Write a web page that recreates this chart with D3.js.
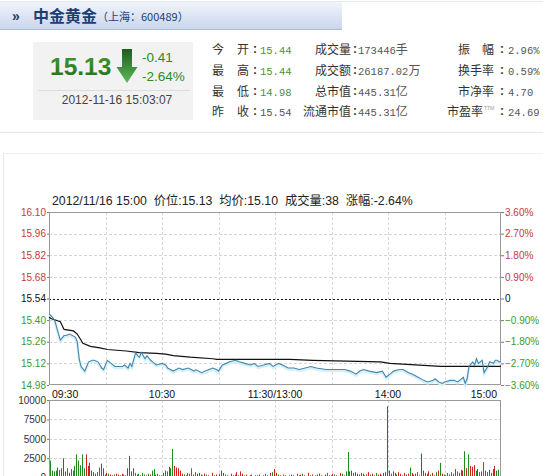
<!DOCTYPE html>
<html><head><meta charset="utf-8">
<script src="https://cdn.jsdelivr.net/npm/d3@7"></script>
<style>
html,body{margin:0;padding:0;background:#fff;}
svg{display:block;}
</style></head>
<body>
<svg id="c" width="543" height="476"></svg>
<script>
// ---------------- DATA ----------------
const stockName = "中金黄金";
const stockCode = "（上海：600489）";
const lastPrice = "15.13";
const change = "-0.41";
const changePct = "-2.64%";
const timestamp = "2012-11-16 15:03:07";
const chartTitle = "2012/11/16 15:00  价位:15.13  均价:15.10  成交量:38  涨幅:-2.64%";

// stats table
const statsCol1 = [["今","开","15.44"],["最","高","15.44"],["最","低","14.98"],["昨","收","15.54"]];
const statsCol2 = [["成交量","173446手"],["成交额","26187.02万"],["总市值","445.31亿"],["流通市值","445.31亿"]];
const statsCol3 = [["振　幅","2.96%"],["换手率","0.59%"],["市净率","4.70"],["市盈率","24.69"]];

const prevClose = 15.54;
const priceTicks = [16.10,15.96,15.82,15.68,15.54,15.40,15.26,15.12,14.98];
const pctTicks = [3.60,2.70,1.80,0.90,0,-0.90,-1.80,-2.70,-3.60];
const timeLabels = [[0,"09:30"],[60,"10:30"],[120,"11:30/13:00"],[180,"14:00"],[240,"15:00"]];
const gridMinutes = [30,60,90,120,150,180,210];
const volTicks = [10000,7500,5000,2500,0];

// [minute index from 09:30 (lunch removed), price]
const priceSeries = [[0,15.44],[1,15.43],[3,15.40],[6,15.27],[8,15.30],[9,15.30],[11,15.31],[14,15.29],[15,15.26],[16,15.15],[17,15.10],[19,15.07],[21,15.13],[23,15.14],[24,15.14],[26,15.13],[28,15.09],[29,15.08],[31,15.14],[33,15.12],[35,15.10],[39,15.10],[40,15.11],[42,15.09],[43,15.12],[44,15.10],[46,15.19],[47,15.17],[48,15.16],[49,15.19],[51,15.15],[52,15.17],[54,15.14],[55,15.13],[57,15.11],[60,15.12],[62,15.11],[63,15.09],[66,15.07],[69,15.09],[71,15.08],[74,15.09],[77,15.07],[78,15.08],[81,15.06],[83,15.07],[85,15.08],[87,15.09],[89,15.08],[90,15.07],[92,15.11],[94,15.12],[96,15.13],[99,15.14],[101,15.13],[104,15.12],[107,15.11],[109,15.12],[111,15.10],[114,15.11],[117,15.12],[119,15.10],[122,15.12],[124,15.11],[127,15.09],[130,15.09],[133,15.08],[139,15.10],[142,15.09],[147,15.08],[150,15.08],[153,15.08],[157,15.08],[160,15.07],[163,15.05],[165,15.07],[167,15.08],[170,15.07],[174,15.06],[177,15.07],[179,15.03],[181,15.05],[183,15.07],[186,15.08],[188,15.08],[191,15.06],[193,15.05],[196,15.03],[199,15.01],[201,15.00],[204,15.01],[205,15.02],[207,15.00],[209,14.99],[210,15.00],[213,15.01],[215,15.01],[217,15.00],[218,15.01],[220,15.03],[221,14.99],[222,15.02],[223,15.10],[225,15.13],[226,15.11],[227,15.15],[228,15.12],[230,15.14],[231,15.06],[233,15.10],[234,15.13],[236,15.12],[237,15.14],[238,15.14],[239,15.13],[240,15.13]];

const avgSeries = [[0,15.42],[1,15.41],[6,15.39],[8,15.34],[13,15.33],[15,15.31],[18,15.25],[22,15.23],[27,15.22],[31,15.21],[41,15.20],[48,15.19],[57,15.185],[62,15.18],[66,15.17],[75,15.16],[87,15.15],[89,15.146],[128,15.146],[140,15.14],[176,15.13],[181,15.12],[208,15.10],[240,15.10]];

// per-minute volume (lots); positive = up minute (red), negative = down minute (green)
const volume = [
-2200,-900,-800,-900,-1300,-1000,1200,2500,-800,-1200,
600,-1100,-900,-1500,-3000,-2200,-1600,-3000,-1200,3000,
1500,1900,900,700,500,-700,-1300,1800,1200,400,
600,-500,400,300,-400,500,400,-300,500,400,
-300,1200,2800,800,1200,-600,400,-500,300,-600,
-400,300,-500,400,-900,-1100,400,-500,300,-300,
600,900,-800,1400,-1200,-3700,1500,1300,1200,900,
500,-400,300,-600,500,-1200,400,-700,500,600,
400,-300,500,-400,300,-200,600,-300,400,200,
-500,900,600,-400,300,-200,500,300,-400,700,
-300,800,500,-300,400,-200,300,-400,200,300,
-300,400,-200,300,-500,300,-200,600,-700,1100,
600,-400,300,-200,400,-300,200,300,-400,300,
-200,500,-300,400,-500,300,-200,600,-300,400,
-200,300,-400,500,-300,200,400,-600,300,-300,
500,-400,300,-200,600,-500,300,-800,-3300,800,
900,-600,700,500,-400,600,500,-300,400,700,
-400,500,300,-600,400,500,-300,600,700,9200,
900,-500,800,600,-400,700,500,-300,600,-400,
500,-1300,600,-400,500,700,-300,3100,900,600,
-500,800,-400,600,300,-700,900,-1900,500,-400,
300,-600,400,-700,500,1100,-800,600,-1000,900,
-3400,1200,-3000,1500,1400,1600,-900,1100,-700,800,
-2000,900,-700,1000,-600,1100,1500,-900,-1000,600
];

// ---------------- DRAW ----------------
const svg = d3.select("#c");
const CJK = "'Noto Sans CJK SC','Noto Sans',sans-serif";
const LAT = "'Liberation Sans',Arial,'Noto Sans CJK SC',sans-serif";
const MONO = "'Liberation Mono','DejaVu Sans Mono',monospace";

const defs = svg.append("defs");
const hg = defs.append("linearGradient").attr("id","hdr").attr("x1",0).attr("y1",0).attr("x2",0).attr("y2",1);
hg.append("stop").attr("offset","0%").attr("stop-color","#f1f4fb");
hg.append("stop").attr("offset","100%").attr("stop-color","#c9d5ec");
const ag = defs.append("linearGradient").attr("id","arr").attr("x1",0).attr("y1",0).attr("x2",0).attr("y2",1);
ag.append("stop").attr("offset","0%").attr("stop-color","#1c5e1c");
ag.append("stop").attr("offset","100%").attr("stop-color","#5db85d");
const pg = defs.append("linearGradient").attr("id","pg").attr("x1",0).attr("y1",0).attr("x2",0).attr("y2",1);
pg.append("stop").attr("offset","0%").attr("stop-color","#3f9a2c");
pg.append("stop").attr("offset","100%").attr("stop-color","#24701a");

// header bar
svg.append("line").attr("x1",0).attr("x2",543).attr("y1",1.5).attr("y2",1.5).attr("stroke","#e4e8ef");
svg.append("rect").attr("x",0).attr("y",2).attr("width",342).attr("height",28).attr("fill","url(#hdr)");
svg.append("line").attr("x1",0).attr("x2",342).attr("y1",29.5).attr("y2",29.5).attr("stroke","#a9b9d6");
svg.append("text").attr("x",12).attr("y",21).attr("font-family",LAT).attr("font-size",14).attr("font-weight","bold").attr("fill","#1d3f73").text("»");
svg.append("text").attr("x",33).attr("y",22).attr("font-family",CJK).attr("font-size",16).attr("font-weight","bold").attr("fill","#1d3f73").text(stockName);
svg.append("text").attr("x",97).attr("y",21).attr("font-family",CJK).attr("font-size",11).attr("fill","#1d3f73").text(stockCode);

// price box
svg.append("rect").attr("x",33).attr("y",42).attr("width",160).attr("height",78).attr("fill","#f2f2f2");
svg.append("text").attr("x",50).attr("y",75).attr("font-family",LAT).attr("font-size",24.5).attr("font-weight","bold").attr("fill","url(#pg)").text(lastPrice);
svg.append("path").attr("d","M122,49 L132,49 L132,67 L137.5,67 L127,83 L116.5,67 L122,67 Z").attr("fill","url(#arr)");
svg.append("text").attr("x",142).attr("y",62).attr("font-family",LAT).attr("font-size",13.5).attr("fill","#2f8a22").text(change);
svg.append("text").attr("x",142).attr("y",81).attr("font-family",LAT).attr("font-size",13.5).attr("fill","#2f8a22").text(changePct);
svg.append("line").attr("x1",38).attr("x2",190).attr("y1",90.5).attr("y2",90.5).attr("stroke","#dcdcdc");
svg.append("text").attr("x",117).attr("y",104).attr("text-anchor","middle").attr("font-family",LAT).attr("font-size",12).attr("fill","#444").text(timestamp);

// stats table
const rowY = [54,75,95.5,116];
function colon(cx, y){
  svg.append("text").attr("x",cx).attr("y",y-1).attr("text-anchor","middle").attr("font-family",LAT)
    .attr("font-size",12).attr("font-weight","bold").attr("fill","#333").text(":");
}
statsCol1.forEach((r,i)=>{
  svg.append("text").attr("x",212).attr("y",rowY[i]).attr("font-family",CJK).attr("font-size",12).attr("fill","#333").text(r[0]);
  svg.append("text").attr("x",237).attr("y",rowY[i]).attr("font-family",CJK).attr("font-size",12).attr("fill","#333").text(r[1]);
  colon(255, rowY[i]);
  svg.append("text").attr("x",260).attr("y",rowY[i]).attr("font-family",MONO).attr("font-size",10.5).attr("fill", i<3 ? "#4f8f2f" : "#555").text(r[2]);
});
statsCol2.forEach((r,i)=>{
  svg.append("text").attr("x",351).attr("y",rowY[i]).attr("text-anchor","end").attr("font-family",CJK).attr("font-size",12).attr("fill","#333").text(r[0]);
  colon(355, rowY[i]);
  const v = r[1], num = v.slice(0,-1), unit = v.slice(-1);
  const t = svg.append("text").attr("x",358).attr("y",rowY[i]).attr("fill","#555");
  t.append("tspan").attr("font-family",MONO).attr("font-size",10.5).text(num);
  t.append("tspan").attr("font-family",CJK).attr("font-size",12).text(unit);
});
statsCol3.forEach((r,i)=>{
  const endX = i===3 ? 483 : 494;
  svg.append("text").attr("x",endX).attr("y",rowY[i]).attr("text-anchor","end").attr("font-family",CJK).attr("font-size",12).attr("fill","#333").text(r[0]);
  if(i===3) svg.append("text").attr("x",484).attr("y",rowY[i]-6).attr("font-family",LAT).attr("font-size",5).attr("fill","#999").text("TTM");
  colon(502, rowY[i]);
  svg.append("text").attr("x",508).attr("y",rowY[i]).attr("font-family",MONO).attr("font-size",10.5).attr("fill","#555").text(r[1]);
});

// separators / panel
svg.append("line").attr("x1",0).attr("x2",543).attr("y1",132.5).attr("y2",132.5).attr("stroke","#e6e6e6");
svg.append("line").attr("x1",3).attr("x2",543).attr("y1",153.5).attr("y2",153.5).attr("stroke","#f0f0f0");
svg.append("line").attr("x1",3.5).attr("x2",3.5).attr("y1",153).attr("y2",476).attr("stroke","#e8e8e8");

// chart title
svg.append("text").attr("x",52).attr("y",205).attr("font-family",LAT).attr("font-size",12.3).attr("fill","#222").style("white-space","pre").text(chartTitle);

// scales
const L = 49, R = 501, PT = 212, PB = 385, VT = 400, VB = 477.6;
const x = d3.scaleLinear().domain([0,240]).range([L,R]);
const yP = d3.scaleLinear().domain([14.98,16.10]).range([PB,PT]);
const yPct = d3.scaleLinear().domain([-3.6,3.6]).range([PB,PT]);
const yV = d3.scaleLinear().domain([0,10000]).range([VB,VT]);

const red = "#c23a3a", green = "#3b9a2f";

// price grid
const g = svg.append("g");
priceTicks.forEach(p=>{
  if(p===16.10 || p===14.98) return;
  const isPrev = Math.abs(p-prevClose)<1e-6;
  g.append("line").attr("x1",L).attr("x2",R).attr("y1",Math.round(yP(p))+0.5).attr("y2",Math.round(yP(p))+0.5)
    .attr("stroke", isPrev ? "#111" : "#d4d4d4").attr("stroke-dasharray", isPrev ? "2,2" : "3,2");
});
gridMinutes.forEach(m=>{
  g.append("line").attr("x1",Math.round(x(m))+0.5).attr("x2",Math.round(x(m))+0.5).attr("y1",PT).attr("y2",PB)
    .attr("stroke","#d8d8d8").attr("stroke-dasharray","3,2");
});

// price axes
const axL = svg.append("g").attr("transform",`translate(${L},0)`)
  .call(d3.axisLeft(yP).tickValues(priceTicks).tickFormat(d3.format(".2f")).tickSize(2).tickPadding(1).tickSizeOuter(0));
axL.select(".domain").remove();
axL.selectAll("line").attr("stroke","#777");
axL.selectAll("text").attr("font-family",LAT).attr("font-size",10)
  .attr("fill",d=> Math.abs(d-prevClose)<1e-6 ? "#111" : (d>prevClose ? red : green));

const axR = svg.append("g").attr("transform",`translate(${R},0)`)
  .call(d3.axisRight(yPct).tickValues(pctTicks).tickFormat(d=> d===0 ? "0" : d3.format(".2f")(d)+"%").tickSize(3).tickPadding(1).tickSizeOuter(0));
axR.select(".domain").remove();
axR.selectAll("line").attr("stroke","#777");
axR.selectAll("text").attr("font-family",LAT).attr("font-size",10)
  .attr("fill",d=> d===0 ? "#111" : (d>0 ? red : green));

// frame
svg.append("rect").attr("x",L+0.5).attr("y",PT+0.5).attr("width",R-L-1).attr("height",PB-PT-1)
  .attr("fill","none").attr("stroke","#999");

// price line with light halo
const lineP = d3.line().x(d=>x(d[0])).y(d=>yP(d[1]));
svg.append("path").datum(priceSeries).attr("d",lineP).attr("transform","translate(0,1.5)")
  .attr("fill","none").attr("stroke","#d6f0f8").attr("stroke-width",2.5);
svg.append("path").datum(avgSeries).attr("d",lineP).attr("fill","none").attr("stroke","#111").attr("stroke-width",1.2);
svg.append("path").datum(priceSeries).attr("d",lineP).attr("fill","none").attr("stroke","#4586ad").attr("stroke-width",1.1);

// time labels
timeLabels.forEach(([m,lab],i)=>{
  const anchor = i===0 ? "start" : (i===timeLabels.length-1 ? "end" : "middle");
  const xx = i===0 ? x(m)+3 : (i===timeLabels.length-1 ? x(m)-4 : x(m));
  svg.append("text").attr("x",xx).attr("y",397.5).attr("text-anchor",anchor)
    .attr("font-family",LAT).attr("font-size",10.5).attr("fill","#111").text(lab);
});

// volume grid
volTicks.forEach(v=>{
  if(v===10000 || v===0) return;
  svg.append("line").attr("x1",L).attr("x2",R).attr("y1",Math.round(yV(v))+0.5).attr("y2",Math.round(yV(v))+0.5)
    .attr("stroke","#d4d4d4").attr("stroke-dasharray","3,2");
});
gridMinutes.forEach(m=>{
  svg.append("line").attr("x1",Math.round(x(m))+0.5).attr("x2",Math.round(x(m))+0.5).attr("y1",VT).attr("y2",VB)
    .attr("stroke","#d8d8d8").attr("stroke-dasharray","3,2");
});
const axV = svg.append("g").attr("transform",`translate(${L},0)`)
  .call(d3.axisLeft(yV).tickValues(volTicks).tickFormat(d3.format("d")).tickSize(2).tickPadding(1).tickSizeOuter(0));
axV.select(".domain").remove();
axV.selectAll("line").attr("stroke","#777");
axV.selectAll("text").attr("font-family",LAT).attr("font-size",10).attr("fill","#333");

// volume bars
svg.append("g").selectAll("line").data(volume).join("line")
  .attr("x1",(d,i)=>Math.round(x(i+0.5))+0.5).attr("x2",(d,i)=>Math.round(x(i+0.5))+0.5)
  .attr("y1",yV(0)).attr("y2",d=>yV(Math.abs(d)))
  .attr("stroke",d=> d>0 ? "#d21f1f" : "#1f8c1f").attr("stroke-width",1);

svg.append("rect").attr("x",L+0.5).attr("y",VT+0.5).attr("width",R-L-1).attr("height",VB-VT)
  .attr("fill","none").attr("stroke","#999");
</script>
</body></html>
